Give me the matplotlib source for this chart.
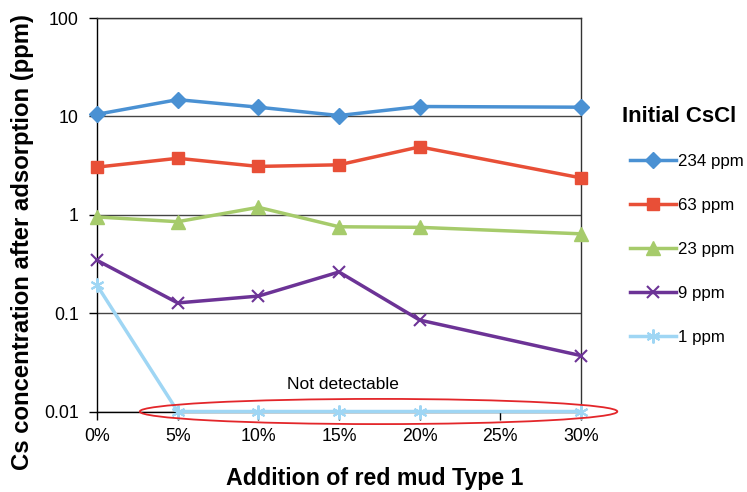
import matplotlib
matplotlib.use("Agg")
import matplotlib.pyplot as plt
from matplotlib.patches import Ellipse
from matplotlib.ticker import FixedLocator, FuncFormatter, NullLocator
from matplotlib.transforms import blended_transform_factory

plt.rcParams['font.family'] = ['Liberation Sans', 'DejaVu Sans']

# red mud addition (%) - no sample at 25%
red_mud = [0, 5, 10, 15, 20, 30]
tick_pos = [0, 5, 10, 15, 20, 25, 30]
tick_labels = ['0%', '5%', '10%', '15%', '20%', '25%', '30%']

# Cs left in solution (ppm), one series per starting CsCl level
cs_234 = [10.5, 14.8, 12.4, 10.2, 12.6, 12.4]
cs_63 = [3.05, 3.75, 3.1, 3.22, 4.9, 2.37]
cs_23 = [0.95, 0.85, 1.19, 0.755, 0.745, 0.64]
cs_9 = [0.344, 0.127, 0.149, 0.262, 0.085, 0.037]
cs_1 = [0.192, 0.01, 0.01, 0.01, 0.01, 0.01]
series_names = ['234 ppm', '63 ppm', '23 ppm', '9 ppm', '1 ppm']

y_ticks = [0.01, 0.1, 1, 10, 100]

fig = plt.figure(figsize=(7.47, 4.92), dpi=100)
ax = fig.add_axes([0.1299, 0.1636, 0.6479, 0.7998])

styles = [
    dict(color='#4a91d3', marker='D', markersize=8),
    dict(color='#e84f37', marker='s', markersize=9),
    dict(color='#a6cb6b', marker='^', markersize=9.5),
    dict(color='#6c3396', marker='x', markersize=9, markeredgewidth=1.5),
    dict(color='#9fd6f4', marker=(6, 2, 0), markersize=10, markeredgewidth=1.5),
]
all_series = [cs_234, cs_63, cs_23, cs_9, cs_1]
for vals, name, st in zip(all_series, series_names, styles):
    ax.plot(red_mud, vals, label=name, linewidth=2.5, zorder=3, clip_on=False, **st)

ax.set_yscale('log')
ax.set_ylim(0.01, 100)
ax.set_xlim(0, 30)
ax.yaxis.set_major_locator(FixedLocator(y_ticks))
ax.yaxis.set_major_formatter(FuncFormatter(lambda v, p: '%g' % v))
ax.yaxis.set_minor_locator(NullLocator())
ax.set_xticks(tick_pos)
ax.set_xticklabels(tick_labels)
ax.tick_params(axis='both', direction='out', length=6, width=1, labelsize=12.8)
ax.tick_params(axis='x', pad=6)
ax.tick_params(axis='y', pad=7)
ax.grid(axis='y', color='#444444', linewidth=1)
for side in ['top', 'right']:
    ax.spines[side].set_color('#333333')
    ax.spines[side].set_linewidth(1)
ax.spines['left'].set_linewidth(1)
ax.spines['bottom'].set_linewidth(1)

ax.set_xlabel('Addition of red mud Type 1', fontsize=16.7, fontweight='bold')
ax.set_ylabel('Cs concentration after adsorption (ppm)', fontsize=17.2, fontweight='bold')
ax.xaxis.set_label_coords(0.573, -0.169)
ax.xaxis.label.set_va('center')
ax.yaxis.set_label_coords(-0.155, 0.431)
ax.yaxis.label.set_va('center')

# "not detectable" annotation
trans = blended_transform_factory(ax.transData, ax.transAxes)
ax.add_patch(Ellipse((17.45, 0.0), 29.6, 0.064, transform=trans, fill=False,
                     edgecolor='#e3262a', linewidth=1.3, clip_on=False, zorder=4))
ax.text(15.25, 0.019, 'Not detectable', ha='center', va='center', fontsize=12.5)

# legend with its title as separate text
fig.text(0.8327, 1 - 116 / 492, 'Initial CsCl', ha='left', va='center',
         fontsize=16, fontweight='bold')
ax.legend(loc='center left', bbox_to_anchor=(0.834, 0.4929), bbox_transform=fig.transFigure,
          borderaxespad=0, frameon=False, fontsize=12.2, handlelength=2.7,
          labelspacing=1.7, handletextpad=0.15)

fig.savefig('out.png', dpi=100)
